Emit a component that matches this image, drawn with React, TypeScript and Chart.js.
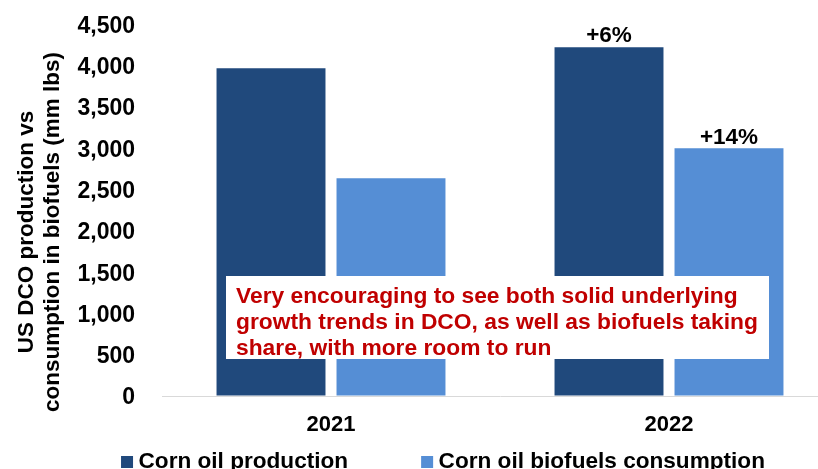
import React, { useEffect, useRef } from 'react';
import { Chart, registerables } from 'chart.js';

Chart.register(...registerables);

const categories = ['2021', '2022'];
const productionValues = [3970, 4225];
const consumptionValues = [2637, 3000];
const productionGrowthLabels = ['', '+6%'];
const consumptionGrowthLabels = ['', '+14%'];
const seriesNames = ['Corn oil production', 'Corn oil biofuels consumption'];
const yMin = 0;
const yMax = 4500;
const yStep = 500;
const axisTitleLines = ['US DCO production vs', 'consumption in biofuels (mm lbs)'];
const noteLines = [
  'Very encouraging to see both solid underlying',
  'growth trends in DCO, as well as biofuels taking',
  'share, with more room to run',
];

const FONT = '"Liberation Sans", Arial, Helvetica, sans-serif';
const DARK = '#20497C';
const LIGHT = '#558ED5';

const growthLabelPlugin = {
  id: 'growthLabels',
  afterDatasetsDraw(chart: any) {
    const ctx = chart.ctx;
    const sets = [productionGrowthLabels, consumptionGrowthLabels];
    ctx.save();
    ctx.font = `bold 22.5px ${FONT}`;
    ctx.fillStyle = '#000000';
    ctx.textAlign = 'center';
    ctx.textBaseline = 'middle';
    sets.forEach((labels, di) => {
      const meta = chart.getDatasetMeta(di);
      meta.data.forEach((bar: any, i: number) => {
        const t = labels[i];
        if (!t) return;
        ctx.fillText(t, bar.x, bar.y - 11);
      });
    });
    ctx.restore();
  },
};

const notePlugin = {
  id: 'noteBox',
  afterDatasetsDraw(chart: any) {
    const ctx = chart.ctx;
    const area = chart.chartArea;
    const left = area.left + 64;
    const top = 276;
    const width = 543;
    const height = 83;
    ctx.save();
    ctx.fillStyle = '#FFFFFF';
    ctx.fillRect(left, top, width, height);
    ctx.font = `bold 22.8px ${FONT}`;
    ctx.fillStyle = '#C00000';
    ctx.textAlign = 'left';
    ctx.textBaseline = 'middle';
    noteLines.forEach((line, i) => {
      ctx.fillText(line, left + 10, top + 21 + i * 26);
    });
    ctx.restore();
  },
};

const axisTitlePlugin = {
  id: 'axisTitle',
  afterDraw(chart: any) {
    const ctx = chart.ctx;
    ctx.save();
    ctx.translate(0, 232);
    ctx.rotate(-Math.PI / 2);
    ctx.font = `bold 22.5px ${FONT}`;
    ctx.fillStyle = '#000000';
    ctx.textAlign = 'center';
    ctx.textBaseline = 'middle';
    axisTitleLines.forEach((line, i) => {
      ctx.fillText(line, 0, 27 + i * 26);
    });
    ctx.restore();
  },
};

// Legend drawn from the datasets (labels + colours), with the reference's tight spacing
const legendPlugin = {
  id: 'compactLegend',
  afterDraw(chart: any) {
    const ctx = chart.ctx;
    const box = 12;
    const boxGap = 5.5;
    const itemGap = 73;
    const centerX = 443;
    const textY = 462;
    ctx.save();
    ctx.font = `bold 22.6px ${FONT}`;
    ctx.textAlign = 'left';
    ctx.textBaseline = 'middle';
    const items = chart.data.datasets.map((ds: any) => ({
      text: ds.label,
      color: ds.backgroundColor,
      w: ctx.measureText(ds.label).width,
    }));
    const total =
      items.reduce((s: number, it: any) => s + box + boxGap + it.w, 0) + itemGap * (items.length - 1);
    let x = centerX - total / 2;
    items.forEach((it: any) => {
      ctx.fillStyle = it.color;
      ctx.fillRect(x, textY - 6, box, box);
      ctx.fillStyle = '#000000';
      ctx.fillText(it.text, x + box + boxGap, textY);
      x += box + boxGap + it.w + itemGap;
    });
    ctx.restore();
  },
};

export default function App() {
  const canvasRef = useRef<HTMLCanvasElement | null>(null);

  useEffect(() => {
    if (!canvasRef.current) return;
    const chart = new Chart(canvasRef.current, {
      type: 'bar',
      data: {
        labels: categories,
        datasets: [
          {
            label: seriesNames[0],
            data: productionValues,
            backgroundColor: DARK,
            categoryPercentage: 0.71,
            barPercentage: 0.908,
          },
          {
            label: seriesNames[1],
            data: consumptionValues,
            backgroundColor: LIGHT,
            categoryPercentage: 0.71,
            barPercentage: 0.908,
          },
        ],
      },
      options: {
        responsive: false,
        animation: false,
        devicePixelRatio: 1,
        layout: { padding: { left: 48, right: 2, top: 24.5, bottom: 23 } },
        plugins: {
          legend: { display: false },
          tooltip: { enabled: false },
          title: { display: false },
        },
        scales: {
          x: {
            grid: { display: false, drawTicks: false },
            border: { display: true, color: '#D9D9D9', width: 1 },
            ticks: {
              padding: 16,
              color: '#000000',
              font: { family: FONT, size: 22, weight: 'bold' },
            },
            afterFit(scale: any) {
              scale.height = 50;
            },
          },
          y: {
            min: yMin,
            max: yMax,
            grid: {
              display: true,
              drawOnChartArea: false,
              drawTicks: true,
              tickLength: 27,
              tickColor: 'rgba(0,0,0,0)',
            },
            border: { display: false },
            ticks: {
              stepSize: yStep,
              padding: 0,
              labelOffset: 2,
              color: '#000000',
              font: { family: FONT, size: 23, weight: 'bold' },
              callback: (v: any) => Number(v).toLocaleString('en-US'),
            },
            afterFit(scale: any) {
              scale.width = 114;
            },
          },
        },
      },
      plugins: [growthLabelPlugin, notePlugin, axisTitlePlugin, legendPlugin],
    } as any);
    return () => chart.destroy();
  }, []);

  return (
    <div
      style={{
        position: 'absolute',
        left: 0,
        top: 0,
        width: 818,
        height: 469,
        overflow: 'hidden',
        background: '#FFFFFF',
      }}
    >
      <canvas ref={canvasRef} width={840} height={469} style={{ display: 'block', width: 840, height: 469 }} />
    </div>
  );
}
